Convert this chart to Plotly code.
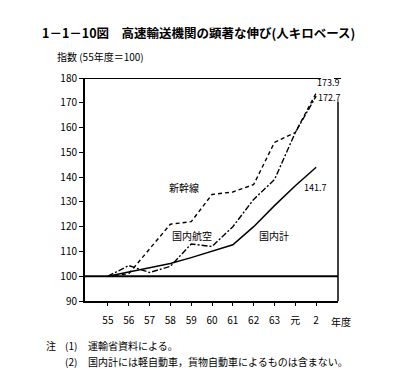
import plotly.graph_objects as go

years = ["55", "56", "57", "58", "59", "60", "61", "62", "63", "元", "2"]
shinkansen = [100, 101, 111, 121, 122, 133, 134, 137, 154, 158, 173.9]
kokunai_koku = [100, 104.3, 101.5, 104, 113, 112, 120, 131, 139, 158, 172.7]
kokunai_kei = [100, 101.7, 103.4, 105.1, 107.5, 110, 112.7, 120, 128.5, 136.5, 144]
y_ticks = [90, 100, 110, 120, 130, 140, 150, 160, 170, 180]

xi = list(range(len(years)))
FONT = "Noto Sans CJK JP"

fig = go.Figure()
fig.add_trace(go.Scatter(x=xi, y=shinkansen, mode="lines",
                         line=dict(color="black", width=1.4, dash="4px,3px"),
                         name="新幹線", showlegend=False))
fig.add_trace(go.Scatter(x=xi, y=kokunai_koku, mode="lines",
                         line=dict(color="black", width=1.4, dash="6px,2px,2px,2px"),
                         name="国内航空", showlegend=False))
fig.add_trace(go.Scatter(x=xi, y=kokunai_kei, mode="lines",
                         line=dict(color="black", width=1.5),
                         name="国内計", showlegend=False))

XMIN, XMAX = -1.1, 11.05
W, H = 404, 385
PL, PR, PT, PB = 77, 330, 70, 293

shapes = [
    dict(type="line", xref="paper", yref="y", x0=0, x1=1, y0=100, y1=100,
         line=dict(color="black", width=2)),
    dict(type="line", xref="paper", yref="y", x0=0, x1=(313 - PL) / (PR - PL), y0=180, y1=180,
         line=dict(color="black", width=2)),
    dict(type="line", xref="paper", yref="y", x0=(326 - PL) / (PR - PL), x1=(333 - PL) / (PR - PL),
         y0=180, y1=180, line=dict(color="black", width=2)),
    dict(type="line", xref="paper", yref="y", x0=1, x1=1, y0=90, y1=170.5,
         line=dict(color="black", width=1.5)),
]

fig.update_layout(
    width=W, height=H,
    margin=dict(l=PL, r=W - PR, t=PT, b=H - PB),
    paper_bgcolor="white", plot_bgcolor="white",
    xaxis=dict(range=[XMIN, XMAX], tickvals=xi, ticktext=years,
               showgrid=False, zeroline=False, showline=True, linecolor="black", linewidth=2,
               ticks="outside", ticklen=3, tickcolor="black", tickwidth=1,
               tickfont=dict(family=FONT, size=10, color="black"), ticklabelstandoff=6),
    yaxis=dict(range=[90, 180], tickvals=y_ticks,
               showgrid=False, zeroline=False, showline=True, linecolor="black", linewidth=2,
               ticks="outside", ticklen=4, tickcolor="black", tickwidth=1,
               tickfont=dict(family=FONT, size=10, color="black")),
    shapes=shapes,
)

ann = []
def Q(text, px, py, size=10, xanchor="center", weight="normal"):
    ann.append(dict(text=text, x=(px - PL) / (PR - PL), y=(PB - py) / (PB - PT),
                    xref="paper", yref="paper", showarrow=False,
                    xanchor=xanchor, yanchor="middle",
                    font=dict(family=FONT, size=size, color="black", weight=weight)))

Q("1－1－10図　高速輸送機関の顕著な伸び(人キロベース)", 32, 24, size=12.5, xanchor="left", weight="bold")
Q("指数 (55年度＝100)", 47, 49, size=10, xanchor="left")
Q("新幹線", 176, 179, size=10)
Q("国内航空", 184, 227, size=10)
Q("国内計", 266, 227, size=10)
Q("141.7", 307, 179, size=9)
Q("173.9", 320, 75, size=9)
Q("172.7", 321, 89, size=9)
Q("年度", 333, 313, size=10)
Q("注", 43, 337, size=10)
Q("(1)", 55, 337, size=10, xanchor="left")
Q("運輸省資料による。", 78, 337, size=10, xanchor="left")
Q("(2)", 55, 353, size=10, xanchor="left")
Q("国内計には軽自動車，貨物自動車によるものは含まない。", 78, 353, size=10, xanchor="left")

fig.update_layout(annotations=ann)
fig.write_html("out.html")
